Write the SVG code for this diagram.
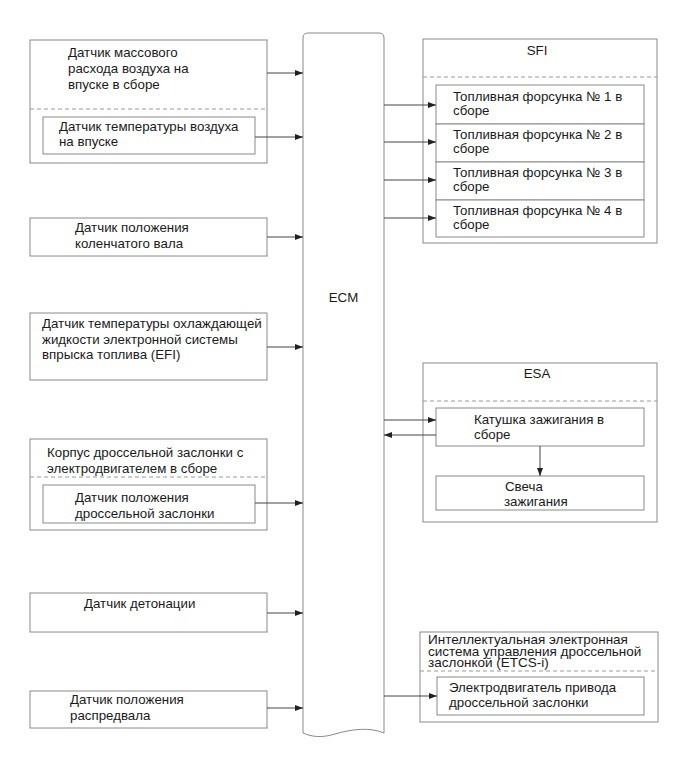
<svg xmlns="http://www.w3.org/2000/svg" width="689" height="760" viewBox="0 0 689 760">
<style>
.box{fill:#fff;stroke:#8a8a8a;stroke-width:1}
.dash{stroke:#9a9a9a;stroke-width:1;stroke-dasharray:4,3;fill:none}
.t{font-family:"Liberation Sans",Arial,sans-serif;font-size:13.3px;fill:#1a1a1a}
.s{font-size:13.5px}
.c{text-anchor:middle}
.ar{stroke:#444;stroke-width:1;fill:none;marker-end:url(#ah)}
</style>
<defs>
<marker id="ah" viewBox="0 0 8 6" markerWidth="8" markerHeight="6" refX="8" refY="3" orient="auto" markerUnits="userSpaceOnUse">
<path d="M0,0 L8,3 L0,6 z" fill="#222"/>
</marker>
</defs>
<rect width="689" height="760" fill="#fff"/>

<g id="ecm">
<path class="box" d="M303,733 L303,38 Q303,33 308,33 L379,33 Q384,33 384,38 L384,733 C370,727 352,729 335,734 C322,738 312,737 303,733 Z"/>
<text class="t c" x="343.5" y="302">ECM</text>
</g>

<g id="maf">
<rect class="box" x="30" y="40" width="237" height="123"/>
<text class="t" x="68" y="57">Датчик массового</text>
<text class="t" x="68" y="73">расхода воздуха на</text>
<text class="t" x="68" y="89">впуске в сборе</text>
<line class="dash" x1="30" y1="109" x2="267" y2="109"/>
</g>
<g id="iat">
<rect class="box" x="43" y="117" width="212" height="37"/>
<text class="t" x="59" y="131">Датчик температуры воздуха</text>
<text class="t" x="59" y="146">на впуске</text>
</g>

<g id="ckp">
<rect class="box" x="30" y="218" width="237" height="38"/>
<text class="t" x="75" y="232">Датчик положения</text>
<text class="t" x="75" y="248">коленчатого вала</text>
</g>

<g id="ect">
<rect class="box" x="30" y="313" width="237" height="67"/>
<text class="t" x="42" y="328">Датчик температуры охлаждающей</text>
<text class="t" x="42" y="344">жидкости электронной системы</text>
<text class="t" x="42" y="359">впрыска топлива (EFI)</text>
</g>

<g id="throttle">
<rect class="box" x="30" y="439" width="237" height="91"/>
<text class="t" x="47" y="457">Корпус дроссельной заслонки с</text>
<text class="t" x="47" y="473">электродвигателем в сборе</text>
<line class="dash" x1="30" y1="477" x2="267" y2="477"/>
</g>
<g id="tps">
<rect class="box" x="43" y="485" width="212" height="38"/>
<text class="t" x="75" y="502">Датчик положения</text>
<text class="t" x="75" y="518">дроссельной заслонки</text>
</g>

<g id="knock">
<rect class="box" x="30" y="593" width="237" height="39"/>
<text class="t" x="84" y="608">Датчик детонации</text>
</g>

<g id="cmp">
<rect class="box" x="30" y="691" width="237" height="37"/>
<text class="t" x="70" y="704">Датчик положения</text>
<text class="t" x="70" y="720">распредвала</text>
</g>

<g id="sfi">
<rect class="box" x="423" y="39" width="234" height="204"/>
<text class="t c" x="537" y="55">SFI</text>
<line class="dash" x1="423" y1="77" x2="657" y2="77"/>
</g>
<g id="inj1">
<rect class="box" x="436" y="85" width="208" height="39"/>
<text class="t" x="453" y="101">Топливная форсунка № 1 в</text>
<text class="t" x="453" y="115">сборе</text>
</g>
<g id="inj2">
<rect class="box" x="436" y="124" width="208" height="38"/>
<text class="t" x="453" y="139">Топливная форсунка № 2 в</text>
<text class="t" x="453" y="153">сборе</text>
</g>
<g id="inj3">
<rect class="box" x="436" y="162" width="208" height="38"/>
<text class="t" x="453" y="177">Топливная форсунка № 3 в</text>
<text class="t" x="453" y="191">сборе</text>
</g>
<g id="inj4">
<rect class="box" x="436" y="200" width="208" height="37"/>
<text class="t" x="453" y="215">Топливная форсунка № 4 в</text>
<text class="t" x="453" y="229">сборе</text>
</g>

<g id="esa">
<rect class="box" x="423" y="363" width="234" height="159"/>
<text class="t c" x="537" y="378">ESA</text>
<line class="dash" x1="423" y1="401" x2="657" y2="401"/>
</g>
<g id="coil">
<rect class="box" x="436" y="408" width="208" height="38"/>
<text class="t" x="474" y="424">Катушка зажигания в</text>
<text class="t" x="474" y="439">сборе</text>
</g>
<g id="plug">
<rect class="box" x="436" y="476" width="208" height="34"/>
<text class="t" x="505" y="491">Свеча</text>
<text class="t" x="504" y="506">зажигания</text>
</g>

<g id="etcs">
<rect class="box" x="420" y="632" width="238" height="90"/>
<text class="t s" x="428" y="644">Интеллектуальная электронная</text>
<text class="t s" x="428" y="656">система управления дроссельной</text>
<text class="t s" x="428" y="667">заслонкой (ETCS-i)</text>
<line class="dash" x1="420" y1="671" x2="658" y2="671"/>
</g>
<g id="motor">
<rect class="box" x="437" y="677" width="207" height="38"/>
<text class="t" x="449" y="692">Электродвигатель привода</text>
<text class="t" x="449" y="707">дроссельной заслонки</text>
</g>

<g id="connectors">
<line class="ar" x1="267" y1="73" x2="303" y2="73"/>
<line class="ar" x1="255" y1="137" x2="303" y2="137"/>
<line class="ar" x1="267" y1="237" x2="303" y2="237"/>
<line class="ar" x1="267" y1="347" x2="303" y2="347"/>
<line class="ar" x1="255" y1="503" x2="303" y2="503"/>
<line class="ar" x1="267" y1="613" x2="303" y2="613"/>
<line class="ar" x1="267" y1="708" x2="303" y2="708"/>
<line class="ar" x1="384" y1="105" x2="436" y2="105"/>
<line class="ar" x1="384" y1="142" x2="436" y2="142"/>
<line class="ar" x1="384" y1="180" x2="436" y2="180"/>
<line class="ar" x1="384" y1="218" x2="436" y2="218"/>
<line class="ar" x1="384" y1="420" x2="436" y2="420"/>
<line class="ar" x1="436" y1="435" x2="384" y2="435"/>
<line class="ar" x1="540" y1="446" x2="540" y2="476"/>
<line class="ar" x1="384" y1="696" x2="437" y2="696"/>
</g>
</svg>
